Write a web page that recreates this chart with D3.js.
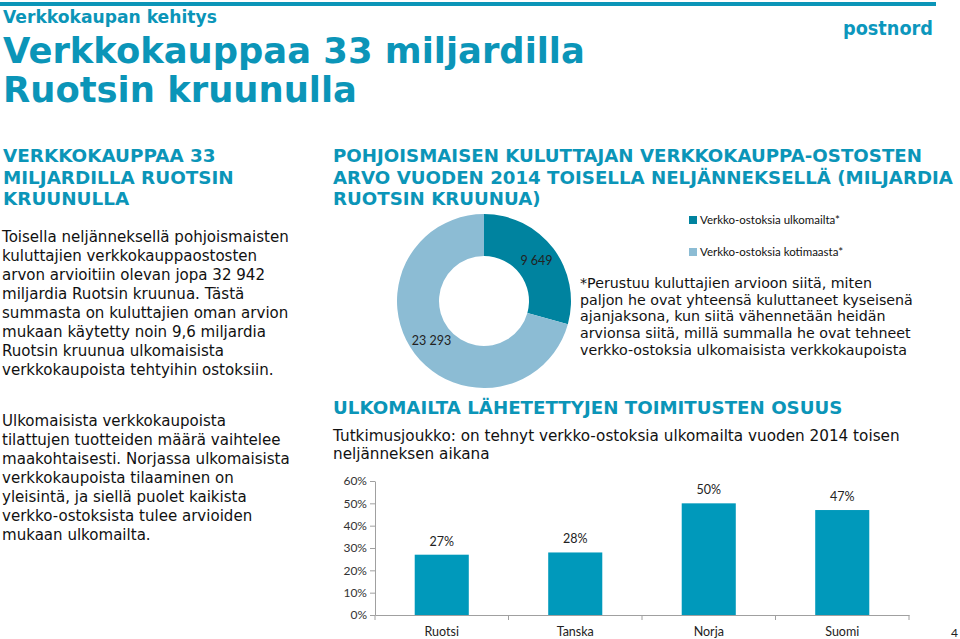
<!DOCTYPE html>
<html>
<head>
<meta charset="utf-8">
<script src="https://cdn.jsdelivr.net/npm/d3@7"></script>
<style>
  body { margin: 0; background: #fff; }
  svg { display: block; }
</style>
</head>
<body>
<svg id="chart" width="960" height="639"></svg>
<script>
// donut data (miljardia SEK)
const donutLabels = ["Verkko-ostoksia ulkomailta*", "Verkko-ostoksia kotimaasta*"];
const donutValues = [9649, 23293];
const donutText = ["9 649", "23 293"];

// bar data
const countries = ["Ruotsi", "Tanska", "Norja", "Suomi"];
const shares = [0.27, 0.28, 0.50, 0.47];
const yTicks = [0, 0.1, 0.2, 0.3, 0.4, 0.5, 0.6];

// texts
const kicker = ["Verkkokaupan kehitys"];
const titleLines = ["Verkkokauppaa 33 miljardilla", "Ruotsin kruunulla"];
const leftHead = ["VERKKOKAUPPAA 33", "MILJARDILLA RUOTSIN", "KRUUNULLA"];
const para1 = [
  "Toisella neljänneksellä pohjoismaisten",
  "kuluttajien verkkokauppaostosten",
  "arvon arvioitiin olevan jopa 32 942",
  "miljardia Ruotsin kruunua. Tästä",
  "summasta on kuluttajien oman arvion",
  "mukaan käytetty noin 9,6 miljardia",
  "Ruotsin kruunua ulkomaisista",
  "verkkokaupoista tehtyihin ostoksiin."
];
const para2 = [
  "Ulkomaisista verkkokaupoista",
  "tilattujen tuotteiden määrä vaihtelee",
  "maakohtaisesti. Norjassa ulkomaisista",
  "verkkokaupoista tilaaminen on",
  "yleisintä, ja siellä puolet kaikista",
  "verkko-ostoksista tulee arvioiden",
  "mukaan ulkomailta."
];
const donutHead = [
  "POHJOISMAISEN KULUTTAJAN VERKKOKAUPPA-OSTOSTEN",
  "ARVO VUODEN 2014 TOISELLA NELJÄNNEKSELLÄ (MILJARDIA",
  "RUOTSIN KRUUNUA)"
];
const footnote = [
  "*Perustuu kuluttajien arvioon siitä, miten",
  "paljon he ovat yhteensä kuluttaneet kyseisenä",
  "ajanjaksona, kun siitä vähennetään heidän",
  "arvionsa siitä, millä summalla he ovat tehneet",
  "verkko-ostoksia ulkomaisista verkkokaupoista"
];
const barHead = ["ULKOMAILTA LÄHETETTYJEN TOIMITUSTEN OSUUS"];
const barSub = [
  "Tutkimusjoukko: on tehnyt verkko-ostoksia ulkomailta vuoden 2014 toisen",
  "neljänneksen aikana"
];

const teal = "#0b95b8";
const barColor = "#0099bb";
const donutColors = ["#00839f", "#8cbcd4"];
const sans = "'DejaVu Sans', Verdana, sans-serif";
const calibri = "Lato, 'Open Sans', sans-serif";

const svg = d3.select("#chart");

// text block squeezed horizontally so its longest line has the given width
function block(lines, o) {
  const g = svg.append("g");
  const texts = g.selectAll("text")
    .data(lines)
    .join("text")
    .attr("font-family", o.family || sans)
    .attr("font-size", o.size)
    .attr("font-weight", o.weight || "normal")
    .attr("fill", o.color || "#111")
    .text(d => d);
  let maxW = 0;
  texts.each(function() { maxW = Math.max(maxW, this.getComputedTextLength()); });
  const sx = o.width / maxW;
  texts.attr("transform", (d, i) => `translate(${o.x},${o.y + i * (o.lh || 0)}) scale(${sx},1)`);
  return g;
}

// header
svg.append("rect").attr("x", 0).attr("y", 2).attr("width", 936).attr("height", 4).attr("fill", teal);
block(kicker, { x: 3, y: 23, size: 17, weight: "bold", color: teal, width: 214 });
block(titleLines, { x: 3, y: 63, lh: 39, size: 36, weight: "bold", color: teal, width: 582 });
svg.append("text")
  .attr("x", 843).attr("y", 35)
  .attr("font-family", sans).attr("font-size", 20).attr("font-weight", "bold")
  .attr("fill", "#0c97bd")
  .attr("textLength", 90).attr("lengthAdjust", "spacingAndGlyphs")
  .text("postnord");

// left column
block(leftHead, { x: 3, y: 162, lh: 21.7, size: 17, weight: "bold", color: teal, width: 231 });
block(para1, { x: 2, y: 242, lh: 19, size: 15, width: 287 });
block(para2, { x: 2, y: 426, lh: 19, size: 15, width: 288 });

// donut section
block(donutHead, { x: 333, y: 162, lh: 21.7, size: 17, weight: "bold", color: teal, width: 620 });

const cx = 484, cy = 301;
const pie = d3.pie().sort(null).value(d => d)(donutValues);
const arc = d3.arc().innerRadius(45).outerRadius(87);
const labelArc = d3.arc().innerRadius(66).outerRadius(66);
const donut = svg.append("g").attr("transform", `translate(${cx},${cy})`);
donut.selectAll("path")
  .data(pie)
  .join("path")
  .attr("d", arc)
  .attr("fill", (d, i) => donutColors[i]);
donut.selectAll("text")
  .data(pie)
  .join("text")
  .attr("transform", d => `translate(${labelArc.centroid(d)})`)
  .attr("text-anchor", "middle")
  .attr("dy", "0.35em")
  .attr("font-family", calibri)
  .attr("font-size", 12.5)
  .attr("fill", "#222")
  .text((d, i) => donutText[i]);

const legend = svg.append("g").attr("transform", "translate(689,220)");
const li = legend.selectAll("g")
  .data(donutLabels)
  .join("g")
  .attr("transform", (d, i) => `translate(0,${i * 32})`);
li.append("rect")
  .attr("x", 0).attr("y", -4).attr("width", 8).attr("height", 8)
  .attr("fill", (d, i) => donutColors[i]);
li.append("text")
  .attr("x", 11).attr("dy", "0.35em")
  .attr("font-family", calibri).attr("font-size", 11.5)
  .attr("fill", "#111")
  .text(d => d);

block(footnote, { x: 580, y: 288, lh: 16.7, size: 14, width: 333 });

// bar section
block(barHead, { x: 333, y: 414, size: 17, weight: "bold", color: teal, width: 510 });
block(barSub, { x: 333, y: 441, lh: 17.5, size: 15, width: 567 });

const x = d3.scaleBand()
  .domain(countries)
  .range([375, 909])
  .paddingInner(0.595)
  .paddingOuter(0.2975);
const y = d3.scaleLinear()
  .domain([0, 0.6])
  .range([615, 481]);

const axisColor = "#a0a0a0";
const yAxis = svg.append("g")
  .attr("transform", "translate(375,0)")
  .call(d3.axisLeft(y).tickValues(yTicks).tickFormat(d3.format(".0%")).tickSize(5).tickSizeOuter(0).tickPadding(3));
yAxis.select(".domain").attr("stroke", axisColor);
yAxis.selectAll(".tick line").attr("stroke", axisColor);
yAxis.selectAll(".tick text")
  .attr("font-family", calibri).attr("font-size", 12).attr("fill", "#333");

const xAxis = svg.append("g")
  .attr("transform", "translate(0,615)")
  .call(d3.axisBottom(x).tickSize(0).tickSizeOuter(0).tickPadding(12));
xAxis.select(".domain").attr("stroke", axisColor);
xAxis.selectAll(".tick text")
  .attr("font-family", calibri).attr("font-size", 12.5).attr("fill", "#222");

// category boundary ticks
const bounds = countries.map(c => x(c) - (x.step() - x.bandwidth()) / 2)
  .concat([x(countries[countries.length - 1]) + x.bandwidth() + (x.step() - x.bandwidth()) / 2]);
svg.append("g").selectAll("line")
  .data(bounds)
  .join("line")
  .attr("x1", d => d).attr("x2", d => d)
  .attr("y1", 615).attr("y2", 620)
  .attr("stroke", axisColor);

svg.append("g").selectAll("rect")
  .data(shares)
  .join("rect")
  .attr("x", (d, i) => x(countries[i]))
  .attr("y", d => y(d))
  .attr("width", x.bandwidth())
  .attr("height", d => y(0) - y(d))
  .attr("fill", barColor);

svg.append("g").selectAll("text")
  .data(shares)
  .join("text")
  .attr("x", (d, i) => x(countries[i]) + x.bandwidth() / 2)
  .attr("y", d => y(d) - 9)
  .attr("text-anchor", "middle")
  .attr("font-family", calibri).attr("font-size", 12.5).attr("fill", "#222")
  .text(d3.format(".0%"));

// page number
svg.append("text")
  .attr("x", 958).attr("y", 637)
  .attr("text-anchor", "end")
  .attr("font-family", calibri).attr("font-size", 12).attr("fill", "#222")
  .text("4");
</script>
</body>
</html>
